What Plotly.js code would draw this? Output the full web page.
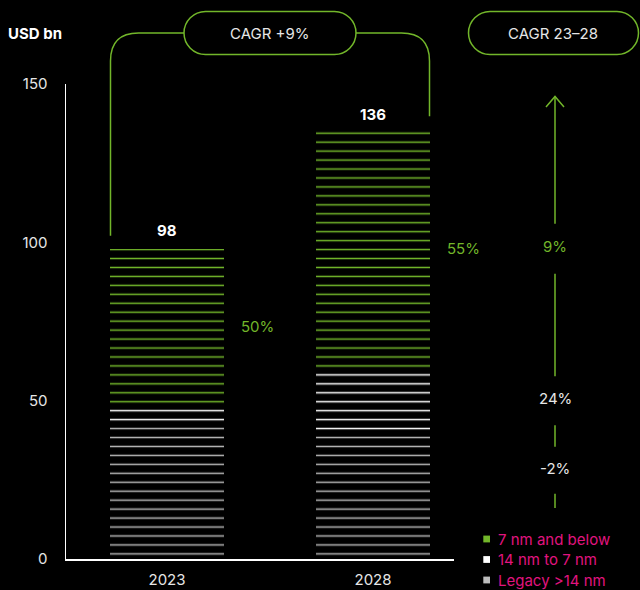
<!DOCTYPE html>
<html>
<head>
<meta charset="utf-8">
<script src="https://cdn.plot.ly/plotly-3.0.1.min.js"></script>
<style>
html,body{margin:0;padding:0;background:#000;}
#chart{width:640px;height:590px;}
</style>
</head>
<body>
<div id="chart"></div>
<script>
// ---- data ----
const years = ['2023', '2028'];
const seriesNames = ['Legacy >14 nm', '14 nm to 7 nm', '7 nm and below'];
const legacy = [43, 40];
const node14to7 = [6, 20];
const node7below = [49, 76];
const totals = [98, 136];
const advancedShare = ['50%', '55%'];
const cagrOverall = 'CAGR +9%';
const cagrHeader = 'CAGR 23–28';
const cagrBySegment = ['9%', '24%', '-2%'];   // 7nm, 14-7nm, legacy
const unitLabel = 'USD bn';
const yTicks = [0, 50, 100, 150];

// ---- styles ----
const GREEN = '#72b62a';
const WHITE = '#ffffff';
const GRAY = '#b4b4b4';
const PINK = '#e0147f';
const TXT = '#e6e6e6';
const FONT = 'Inter, Roboto, "DejaVu Sans", sans-serif';

const W = 640, H = 590;
const M = {l: 66, r: 186, t: 84, b: 31};
const plotW = W - M.l - M.r, plotH = H - M.t - M.b;
const xr = [-0.4903, 1.3932];
const yr = [0, 150];
const barW = 0.5534;
const STRIPE = 8.95;

// pixel helpers (mirror of the axes) -> paper coords
const xPix = v => M.l + (v - xr[0]) / (xr[1] - xr[0]) * plotW;
const yPix = v => M.t + plotH - (v - yr[0]) / (yr[1] - yr[0]) * plotH;
const px = x => (x - M.l) / plotW;
const py = y => (M.t + plotH - y) / plotH;
const P = (x, y) => px(x).toFixed(5) + ',' + py(y).toFixed(5);

function pattern(color) {
  return {shape: '-', fillmode: 'replace', fgcolor: color, bgcolor: '#000000',
          size: STRIPE, solidity: 0.17};
}
const segData = [legacy, node14to7, node7below];
const segColors = [GRAY, WHITE, GREEN];
const traces = segData.map((vals, i) => ({
  type: 'bar', x: years, y: vals, name: seriesNames[i], width: barW,
  marker: {color: segColors[i], line: {width: 0}, pattern: pattern(segColors[i])},
  hoverinfo: 'skip', showlegend: false
}));

const shapes = [];
const annotations = [];
const lineG = {color: GREEN, width: 1.5};
function note(x, y, text, color, opts) {
  return Object.assign({xref: 'paper', yref: 'paper', x: px(x), y: py(y), text: text,
    showarrow: false, xanchor: 'center', yanchor: 'middle',
    font: {family: FONT, size: 15, color: color}}, opts || {});
}

// bracket from bar 2023 to bar 2028 via the CAGR pill
const leftX = xPix(0 - barW / 2) + 0.5, rightX = xPix(1 + barW / 2) - 0.5;
const topY = 33, rad = 28;
const pill1 = {l: 184, r: 356, t: 11.5, b: 54.5};
const pill2 = {l: 468.5, r: 638.5, t: 11.5, b: 54.5};
shapes.push({type: 'path', xref: 'paper', yref: 'paper', line: lineG,
  path: 'M' + P(leftX, yPix(totals[0]) - 13) + ' L' + P(leftX, topY + rad) +
        ' Q' + P(leftX, topY) + ' ' + P(leftX + rad, topY) + ' L' + P(pill1.l, topY)});
shapes.push({type: 'path', xref: 'paper', yref: 'paper', line: lineG,
  path: 'M' + P(pill1.r, topY) + ' L' + P(rightX - rad, topY) +
        ' Q' + P(rightX, topY) + ' ' + P(rightX, topY + rad) + ' L' + P(rightX, yPix(totals[1]) - 12)});

function pillPath(b) {
  const r = (b.b - b.t) / 2, k = 0.5523 * r;
  return 'M' + P(b.l + r, b.t) + ' L' + P(b.r - r, b.t) +
    ' C' + P(b.r - r + k, b.t) + ' ' + P(b.r, b.t + r - k) + ' ' + P(b.r, b.t + r) +
    ' C' + P(b.r, b.t + r + k) + ' ' + P(b.r - r + k, b.b) + ' ' + P(b.r - r, b.b) +
    ' L' + P(b.l + r, b.b) +
    ' C' + P(b.l + r - k, b.b) + ' ' + P(b.l, b.t + r + k) + ' ' + P(b.l, b.t + r) +
    ' C' + P(b.l, b.t + r - k) + ' ' + P(b.l + r - k, b.t) + ' ' + P(b.l + r, b.t) + ' Z';
}
[pill1, pill2].forEach(b => shapes.push({type: 'path', xref: 'paper', yref: 'paper',
  line: lineG, fillcolor: 'rgba(0,0,0,0)', path: pillPath(b)}));
annotations.push(note((pill1.l + pill1.r) / 2, topY, cagrOverall, TXT));
annotations.push(note((pill2.l + pill2.r) / 2 - 1, topY, cagrHeader, TXT));

// CAGR arrow column
const arrowX = 555;
const labelVals = [
  node7below[1] / 2 + legacy[1] + node14to7[1],
  node14to7[1] / 2 + legacy[1],
  28
];
const labelYs = labelVals.map(yPix);
const halfGaps = [25, 24.5, 23.5];
const segStops = [96.5];
labelYs.forEach((y, i) => { segStops.push(y - halfGaps[i]); segStops.push(y + halfGaps[i]); });
segStops.push(508);
for (let i = 0; i < segStops.length; i += 2) {
  shapes.push({type: 'path', xref: 'paper', yref: 'paper', line: lineG,
    path: 'M' + P(arrowX, segStops[i]) + ' L' + P(arrowX, segStops[i + 1])});
}
shapes.push({type: 'path', xref: 'paper', yref: 'paper', line: lineG,
  path: 'M' + P(arrowX - 9, 107) + ' L' + P(arrowX, 96.5) + ' L' + P(arrowX + 9, 107)});
const cagrColors = [GREEN, TXT, TXT];
cagrBySegment.forEach((t, i) => annotations.push(note(arrowX, labelYs[i] - 2, t, cagrColors[i])));

// totals above the top stripe of each bar
years.forEach((yr_, i) => {
  const n = Math.ceil((yPix(totals[i]) - M.t) / STRIPE - 0.5);
  const stripeY = M.t + (n + 0.5) * STRIPE;
  annotations.push({xref: 'x', yref: 'paper', x: i, y: py(stripeY - 19),
    xanchor: 'center', yanchor: 'middle', text: '<b>' + totals[i] + '</b>',
    showarrow: false, font: {family: FONT, size: 15, color: WHITE}});
});

// share of advanced nodes beside bars
years.forEach((yr_, i) => {
  const mid = legacy[i] + node14to7[i] + node7below[i] / 2;
  annotations.push({xref: 'paper', yref: 'y', x: px(xPix(i + barW / 2) + 15), y: mid,
    xanchor: 'left', yanchor: 'middle', text: advancedShare[i], showarrow: false,
    font: {family: FONT, size: 15, color: GREEN}});
});

// unit label
annotations.push(note(6, 33, '<b>' + unitLabel + '</b>', WHITE, {xanchor: 'left'}));

// custom legend
const legendOrder = [2, 1, 0];
legendOrder.forEach((si, row) => {
  const cy = 539 + row * 20.5;
  shapes.push({type: 'rect', xref: 'paper', yref: 'paper',
    x0: px(483.3), x1: px(490), y0: py(cy - 3.4), y1: py(cy + 3.4),
    fillcolor: si === 0 ? '#bdbdbd' : segColors[si], line: {width: 0}});
  annotations.push(note(496, cy, seriesNames[si], PINK, {xanchor: 'left'}));
});

const layout = {
  width: W, height: H,
  margin: M,
  paper_bgcolor: '#000000', plot_bgcolor: '#000000',
  barmode: 'stack', showlegend: false,
  font: {family: FONT, size: 15, color: TXT},
  xaxis: {type: 'category', range: xr, showline: true, linecolor: WHITE, linewidth: 1.5,
    showgrid: false, zeroline: false, ticks: 'outside', ticklen: 6,
    tickcolor: 'rgba(0,0,0,0)', tickfont: {family: FONT, size: 15, color: TXT},
    automargin: false, fixedrange: true},
  yaxis: {range: yr, tickvals: yTicks, showline: true, linecolor: WHITE, linewidth: 1.5,
    showgrid: false, zeroline: false, ticks: 'outside', ticklen: 14,
    tickcolor: 'rgba(0,0,0,0)', tickfont: {family: FONT, size: 15, color: TXT},
    automargin: false, fixedrange: true},
  shapes: shapes,
  annotations: annotations
};

Plotly.newPlot('chart', traces, layout, {displayModeBar: false, staticPlot: true});
</script>
</body>
</html>
